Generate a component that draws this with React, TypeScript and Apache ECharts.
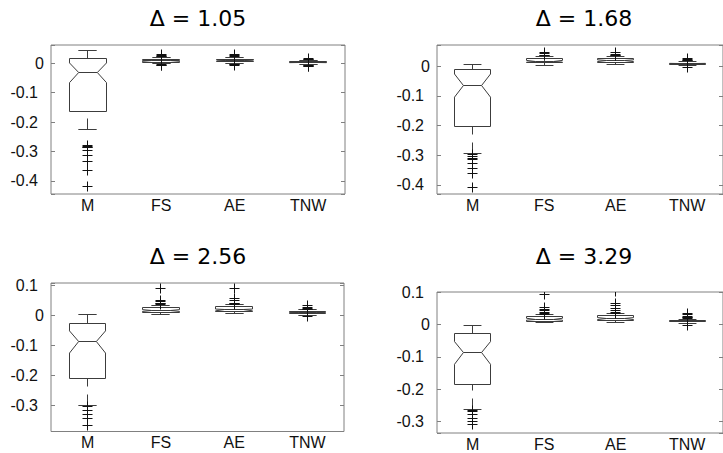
import React, { useEffect, useRef } from "react";
import * as echarts from "echarts";

const categories = ["M", "FS", "AE", "TNW"];
const titles = ["Δ = 1.05", "Δ = 1.68", "Δ = 2.56", "Δ = 3.29"];

// box stats per category: [lowerWhisker, q1, notchLow, median, notchHigh, q3, upperWhisker]
const box105 = [
  [-0.2245, -0.165, -0.066, -0.031, 0.001, 0.0146, 0.042],
  [-0.002, 0.004, 0.0065, 0.008, 0.0095, 0.012, 0.02],
  [-0.001, 0.005, 0.007, 0.009, 0.011, 0.013, 0.021],
  [-0.004, 0.001, 0.002, 0.003, 0.004, 0.005, 0.01],
];
const out105 = [
  [-0.28, -0.283, -0.285, -0.287, -0.298, -0.312, -0.335, -0.365, -0.42],
  [0.022, 0.024, 0.026, 0.028, -0.004, -0.006, -0.008],
  [0.023, 0.025, 0.028, -0.003, -0.005, -0.007],
  [0.012, 0.014, 0.017, -0.006, -0.008, -0.01, -0.012],
];

const box168 = [
  [-0.294, -0.202, -0.104, -0.065, -0.026, -0.011, 0.0057],
  [0.004, 0.012, 0.014, 0.017, 0.02, 0.026, 0.033],
  [0.006, 0.013, 0.016, 0.019, 0.022, 0.027, 0.034],
  [0.004, 0.007, 0.008, 0.009, 0.01, 0.011, 0.016],
];
const out168 = [
  [-0.298, -0.305, -0.31, -0.315, -0.329, -0.345, -0.363, -0.41],
  [0.036, 0.038, 0.042, 0.046],
  [0.036, 0.037, 0.039, 0.047],
  [0.018, 0.02, 0.022, 0.025, -0.003],
];

const box256 = [
  [-0.301, -0.212, -0.126, -0.089, -0.052, -0.028, 0.002],
  [0.004, 0.01, 0.013, 0.016, 0.019, 0.026, 0.034],
  [0.005, 0.012, 0.015, 0.018, 0.021, 0.028, 0.035],
  [0.0, 0.007, 0.009, 0.01, 0.011, 0.013, 0.018],
];
const out256 = [
  [-0.306, -0.318, -0.33, -0.343, -0.367],
  [0.036, 0.038, 0.04, 0.045, 0.05, 0.088],
  [0.037, 0.039, 0.041, 0.05, 0.057, 0.09],
  [0.019, 0.02, 0.022, 0.025, 0.033, -0.005],
];

const box329 = [
  [-0.262, -0.185, -0.123, -0.088, -0.053, -0.027, -0.003],
  [0.005, 0.01, 0.013, 0.016, 0.019, 0.023, 0.03],
  [0.006, 0.012, 0.015, 0.018, 0.021, 0.027, 0.033],
  [0.004, 0.008, 0.009, 0.01, 0.011, 0.012, 0.016],
];
const out329 = [
  [-0.265, -0.27, -0.277, -0.289, -0.3, -0.309],
  [0.032, 0.035, 0.038, 0.042, 0.046, 0.052, 0.093],
  [0.035, 0.038, 0.043, 0.048, 0.058, 0.063, 0.103],
  [0.018, 0.02, 0.022, 0.025, 0.03, 0.033, -0.003],
];

const yMin = [-0.4446, -0.431, -0.388, -0.335];
const yMax = [0.062, 0.072, 0.108, 0.1];

const panelBoxes = [box105, box168, box256, box329];
const panelOutliers = [out105, out168, out256, out329];

const grids = [
  { left: 51, top: 45, width: 294, height: 149 },
  { left: 437, top: 45, width: 294, height: 149 },
  { left: 51, top: 283, width: 293, height: 148.5 },
  { left: 437, top: 292, width: 294, height: 141 },
];
const titlePos = [
  [198, 18],
  [584, 18],
  [198, 256],
  [584, 256],
];

const BOX_COLOR = "#3c3c3c";
const OUT_COLOR = "#111111";
const FRAME = "#808080";
const LABEL = "#111111";
const LABEL_SIZE = 16;

const crisp = (v: number) => Math.round(v - 0.5) + 0.5;

function renderBox(_params: any, api: any) {
  const i = api.value(0);
  const lw = api.value(1);
  const q1 = api.value(2);
  const nl = api.value(3);
  const md = api.value(4);
  const nh = api.value(5);
  const q3 = api.value(6);
  const uw = api.value(7);
  const band = api.size([1, 0])[0];
  const w = band * 0.5;
  const cx = api.coord([i, md])[0];
  const y = (v: number) => api.coord([i, v])[1];
  const L = crisp(cx - w / 2);
  const R = crisp(cx + w / 2);
  const ins = w * 0.25;
  const capW = w * 0.5;
  const X = crisp(cx);
  const line = (x1: number, y1: number, x2: number, y2: number, dash?: number[]) => ({
    type: "line",
    shape: { x1, y1, x2, y2 },
    style: { stroke: BOX_COLOR, lineWidth: 1, lineDash: dash || null, fill: null },
  });
  const yq1 = crisp(y(q1));
  const yq3 = crisp(y(q3));
  const ynl = y(nl);
  const ynh = y(nh);
  const ymd = crisp(y(md));
  const ylw = crisp(y(lw));
  const yuw = crisp(y(uw));
  return {
    type: "group",
    children: [
      line(X, yuw, X, yq3, [11, 8]),
      line(X, ylw, X, yq1, [11, 8]),
      line(X - capW / 2, yuw, X + capW / 2, yuw),
      line(X - capW / 2, ylw, X + capW / 2, ylw),
      {
        type: "polygon",
        shape: {
          points: [
            [L, yq3],
            [R, yq3],
            [R, ynh],
            [R - ins, ymd],
            [R, ynl],
            [R, yq1],
            [L, yq1],
            [L, ynl],
            [L + ins, ymd],
            [L, ynh],
          ],
        },
        style: { stroke: BOX_COLOR, lineWidth: 1, fill: "none" },
      },
      line(L + ins, ymd, R - ins, ymd),
    ],
  };
}

function renderPlus(_params: any, api: any) {
  const p = api.coord([api.value(0), api.value(1)]);
  const s = 5;
  const x = crisp(p[0]);
  const y = crisp(p[1]);
  return {
    type: "group",
    children: [
      { type: "line", shape: { x1: x - s, y1: y, x2: x + s, y2: y }, style: { stroke: OUT_COLOR, lineWidth: 1 } },
      { type: "line", shape: { x1: x, y1: y - s, x2: x, y2: y + s }, style: { stroke: OUT_COLOR, lineWidth: 1 } },
    ],
  };
}

const isRoundTick = (v: number) => Math.abs(v / 0.1 - Math.round(v / 0.1)) < 1e-6;

function buildOption() {
  const xAxis: any[] = [];
  const yAxis: any[] = [];
  const series: any[] = [];
  grids.forEach((_g, gi) => {
    xAxis.push({
      type: "category",
      gridIndex: gi,
      data: categories,
      boundaryGap: true,
      axisLine: { show: false },
      axisTick: { show: false },
      axisLabel: { margin: 3, fontSize: LABEL_SIZE, fontFamily: "Liberation Sans", color: LABEL },
      splitLine: { show: false },
    });
    yAxis.push({
      type: "value",
      gridIndex: gi,
      min: yMin[gi],
      max: yMax[gi],
      position: "left",
      splitLine: { show: false },
      axisLine: { show: false },
      axisTick: { show: true, inside: true, length: 4, lineStyle: { color: FRAME } },
      axisLabel: {
        margin: 7,
        fontSize: LABEL_SIZE,
        fontFamily: "Liberation Sans",
        color: LABEL,
        formatter: (v: number) => {
          if (!isRoundTick(v)) return "";
          const r = Math.round(v * 10) / 10;
          if (r === 0) return "{z|0}";
          return "{n|" + r.toFixed(1) + "}";
        },
        rich: {
          z: { fontSize: LABEL_SIZE, fontFamily: "Liberation Sans", color: LABEL },
          n: { fontSize: LABEL_SIZE, fontFamily: "Liberation Sans", color: LABEL, padding: [0, 6, 0, 0] },
        },
      },
    });
    yAxis.push({
      type: "value",
      gridIndex: gi,
      min: yMin[gi],
      max: yMax[gi],
      position: "right",
      splitLine: { show: false },
      axisLine: { show: false },
      axisTick: { show: true, inside: true, length: 4, lineStyle: { color: FRAME } },
      axisLabel: { show: false },
    });
    const boxes = panelBoxes[gi];
    series.push({
      type: "custom",
      xAxisIndex: gi,
      yAxisIndex: gi * 2,
      renderItem: renderBox,
      clip: true,
      encode: { x: 0, y: 4 },
      data: boxes.map((b, ci) => [ci, ...b]),
      silent: true,
    });
    const outs: number[][] = [];
    panelOutliers[gi].forEach((arr, ci) => arr.forEach((v) => outs.push([ci, v])));
    series.push({
      type: "custom",
      xAxisIndex: gi,
      yAxisIndex: gi * 2,
      renderItem: renderPlus,
      clip: true,
      encode: { x: 0, y: 1 },
      data: outs,
      silent: true,
    });
  });
  return {
    animation: false,
    backgroundColor: "#ffffff",
    grid: grids.map((g) => ({
      ...g,
      show: true,
      borderColor: FRAME,
      borderWidth: 1,
      backgroundColor: "transparent",
      containLabel: false,
    })),
    xAxis,
    yAxis,
    series,
    graphic: titles.map((t, i) => ({
      type: "text",
      x: titlePos[i][0],
      y: titlePos[i][1],
      style: {
        text: t,
        fontSize: 22,
        fontFamily: "DejaVu Sans",
        fill: "#000",
        align: "center",
        verticalAlign: "middle",
      },
    })),
  };
}

export default function App() {
  const ref = useRef<HTMLDivElement>(null);
  useEffect(() => {
    if (!ref.current) return;
    const chart = echarts.init(ref.current, undefined, { renderer: "svg" });
    chart.setOption(buildOption() as any);
    return () => chart.dispose();
  }, []);
  return (
    <div
      ref={ref}
      style={{ position: "fixed", left: 0, top: 0, width: 723, height: 453, background: "#fff" }}
    />
  );
}
